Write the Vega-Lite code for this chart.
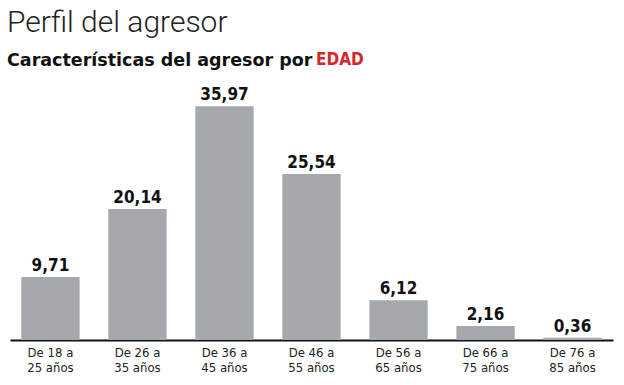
{
  "$schema": "https://vega.github.io/schema/vega-lite/v6.json",
  "width": 603,
  "height": 265,
  "autosize": {"type": "none"},
  "padding": {"left": 10, "top": 75, "right": 11, "bottom": 45},
  "background": "white",
  "config": {
    "view": {"stroke": null},
    "locale": {"number": {"decimal": ",", "thousands": ".", "grouping": [3], "currency": ["", "€"]}}
  },
  "title": {
    "text": "Perfil del agresor",
    "subtitle": "Características del agresor por",
    "anchor": "start",
    "font": "Roboto",
    "fontWeight": 300,
    "fontSize": 30,
    "color": "#222222",
    "subtitleFont": "DejaVu Sans",
    "subtitleFontWeight": "bold",
    "subtitleFontSize": 17.5,
    "subtitleColor": "#111111",
    "subtitlePadding": 14,
    "offset": -17,
    "dx": -3
  },
  "data": {
    "values": [
      {"rango": "De 18 a 25 años", "porcentaje": 9.71},
      {"rango": "De 26 a 35 años", "porcentaje": 20.14},
      {"rango": "De 36 a 45 años", "porcentaje": 35.97},
      {"rango": "De 46 a 55 años", "porcentaje": 25.54},
      {"rango": "De 56 a 65 años", "porcentaje": 6.12},
      {"rango": "De 66 a 75 años", "porcentaje": 2.16},
      {"rango": "De 76 a 85 años", "porcentaje": 0.36}
    ]
  },
  "encoding": {
    "x": {
      "field": "rango",
      "type": "nominal",
      "sort": null,
      "scale": {"paddingInner": 0.33, "paddingOuter": 0.13},
      "axis": {
        "title": null,
        "labelAngle": 0,
        "labelExpr": "[slice(datum.label,0,7), slice(datum.label,8)]",
        "ticks": false,
        "domainColor": "#111111",
        "domainWidth": 2,
        "labelFont": "DejaVu Sans Condensed",
        "labelFontSize": 13,
        "labelColor": "#222222",
        "labelPadding": 6,
        "labelLineHeight": 15
      }
    },
    "y": {
      "field": "porcentaje",
      "type": "quantitative",
      "scale": {"domain": [0, 40.77], "nice": false},
      "axis": null
    }
  },
  "layer": [
    {
      "mark": {"type": "bar"},
      "encoding": {
        "color": {
          "datum": "EDAD",
          "type": "nominal",
          "scale": {"range": ["#a5a9ad"]},
          "legend": {
            "title": "EDAD",
            "orient": "none",
            "legendX": 306,
            "legendY": -23,
            "padding": 0,
            "titlePadding": 0,
            "titleColor": "#d7262b",
            "titleFont": "DejaVu Sans Condensed",
            "titleFontSize": 17,
            "titleFontWeight": "bold",
            "symbolOpacity": 0,
            "labelOpacity": 0
          }
        }
      }
    },
    {
      "mark": {
        "type": "text",
        "dy": -6,
        "baseline": "alphabetic",
        "font": "DejaVu Sans Condensed",
        "fontWeight": "bold",
        "fontSize": 17,
        "color": "#111111"
      },
      "encoding": {
        "text": {"field": "porcentaje", "type": "quantitative", "format": ".2f"}
      }
    }
  ]
}
